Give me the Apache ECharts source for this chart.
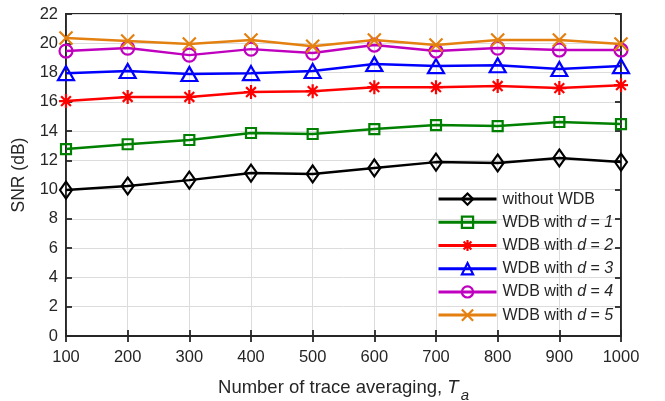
<!DOCTYPE html>
<html><head><meta charset="utf-8">
<script src="https://cdn.jsdelivr.net/npm/echarts@6/dist/echarts.min.js"></script>
<style>html,body{margin:0;padding:0;background:#fff}#c{width:665px;height:401px}</style>
</head><body><div id="c"></div>
<script>
var categories = [100, 200, 300, 400, 500, 600, 700, 800, 900, 1000];
var noWDB = [9.97, 10.25, 10.65, 11.13, 11.07, 11.48, 11.88, 11.82, 12.16, 11.88];
var d1 = [12.77, 13.1, 13.39, 13.87, 13.8, 14.14, 14.41, 14.34, 14.62, 14.48];
var d2 = [16.05, 16.33, 16.33, 16.67, 16.73, 17.0, 17.0, 17.08, 16.94, 17.14];
var d3 = [17.96, 18.1, 17.9, 17.96, 18.1, 18.58, 18.44, 18.5, 18.24, 18.44];
var d4 = [19.47, 19.67, 19.19, 19.6, 19.33, 19.88, 19.47, 19.67, 19.54, 19.54];
var d5 = [20.36, 20.15, 19.95, 20.22, 19.8, 20.22, 19.88, 20.22, 20.22, 19.95];
var seriesNames = ['without WDB', 'WDB with d = 1', 'WDB with d = 2', 'WDB with d = 3', 'WDB with d = 4', 'WDB with d = 5'];
var yTicks = [0, 2, 4, 6, 8, 10, 12, 14, 16, 18, 20, 22];

var FONT = '"Liberation Sans", Arial, sans-serif';
var TXT = '#262626';
var colors = ['#000000', '#008000', '#ff0000', '#0000ff', '#bf00bf', '#e3800f'];
var symbols = [
  'path://M0,-1L0.7,0L0,1L-0.7,0Z',
  'rect',
  'path://M0,-1L0,1M-1,0L1,0M-0.7,-0.7L0.7,0.7M-0.7,0.7L0.7,-0.7',
  'path://M0,-1L0.95,0.7L-0.95,0.7Z',
  'circle',
  'path://M-1,-1L1,1M-1,1L1,-1'
];
var sizes = [[12, 17], 10, 14, [16, 14], 13, 13];
var datas = [noWDB, d1, d2, d3, d4, d5];

function pairs(arr) { return categories.map(function (c, i) { return [c, arr[i]]; }); }

var series = datas.map(function (arr, k) {
  return {
    name: seriesNames[k],
    type: 'line',
    data: pairs(arr),
    symbol: symbols[k],
    symbolSize: sizes[k],
    showAllSymbol: true,
    clip: false,
    lineStyle: { color: colors[k], width: 2.5 },
    itemStyle: { color: 'none', borderColor: colors[k], borderWidth: 2.2 },
    emphasis: { disabled: true },
    z: 3 + k
  };
});

var axisLineStyle = { color: TXT, width: 1.8 };

var chart = echarts.init(document.getElementById('c'), null, { renderer: 'canvas' });
chart.setOption({
  animation: false,
  backgroundColor: '#ffffff',
  grid: { left: 66, right: 44, top: 14, bottom: 65, containLabel: false, outerBoundsMode: 'none',
    show: true, borderColor: TXT, borderWidth: 1.8, backgroundColor: 'transparent' },
  legend: {
    orient: 'vertical',
    left: 432,
    top: 186,
    itemWidth: 58,
    itemHeight: 14,
    itemGap: 7,
    data: seriesNames,
    lineStyle: { width: 3 },
    itemStyle: { borderWidth: 2.2 },
    textStyle: {
      fontFamily: FONT, fontSize: 16, color: TXT, padding: [0, 0, 0, 1],
      rich: { i: { fontFamily: FONT, fontSize: 16, fontStyle: 'italic', color: TXT } }
    },
    formatter: function (n) {
      var m = n.match(/^(.*) d = (\d)$/);
      return m ? m[1] + ' {i|d} = {i|' + m[2] + '}' : n;
    }
  },
  xAxis: [{
    type: 'value', min: 100, max: 1000, interval: 100,
    name: '{n|Number of trace averaging, }{t|T}{s|a}',
    nameLocation: 'middle', nameGap: 36,
    nameTextStyle: {
      rich: {
        n: { fontFamily: FONT, fontSize: 18.5, color: TXT },
        t: { fontFamily: FONT, fontSize: 18.5, fontStyle: 'italic', color: TXT },
        s: { fontFamily: FONT, fontSize: 15, fontStyle: 'italic', color: TXT, padding: [16, 0, 0, 2] }
      }
    },
    axisLine: { show: true, lineStyle: axisLineStyle },
    axisTick: { show: true, inside: true, length: 6, lineStyle: axisLineStyle },
    axisLabel: { fontFamily: FONT, fontSize: 16.5, color: TXT, margin: 13, formatter: function (v) { return String(v); } },
    splitLine: { show: true, lineStyle: { color: '#dcdcdc', width: 1 } }
  }, {
    type: 'value', min: 100, max: 1000, interval: 100, position: 'top',
    axisLine: { show: true, lineStyle: axisLineStyle },
    axisTick: { show: true, inside: true, length: 6, lineStyle: axisLineStyle },
    axisLabel: { show: false }, splitLine: { show: false }
  }],
  yAxis: [{
    type: 'value', min: 0, max: 22, interval: 2,
    name: 'SNR (dB)', nameLocation: 'middle', nameGap: 38,
    nameTextStyle: { fontFamily: FONT, fontSize: 17.5, color: TXT },
    axisLine: { show: true, lineStyle: axisLineStyle },
    axisTick: { show: true, inside: true, length: 6, lineStyle: axisLineStyle },
    axisLabel: { fontFamily: FONT, fontSize: 16.5, color: TXT, margin: 8,
      formatter: function (v) { return yTicks.indexOf(v) >= 0 ? String(v) : ''; } },
    splitLine: { show: true, lineStyle: { color: '#dcdcdc', width: 1 } }
  }, {
    type: 'value', min: 0, max: 22, interval: 2, position: 'right',
    axisLine: { show: true, lineStyle: axisLineStyle },
    axisTick: { show: true, inside: true, length: 6, lineStyle: axisLineStyle },
    axisLabel: { show: false }, splitLine: { show: false }
  }],
  series: series
});
</script></body></html>
